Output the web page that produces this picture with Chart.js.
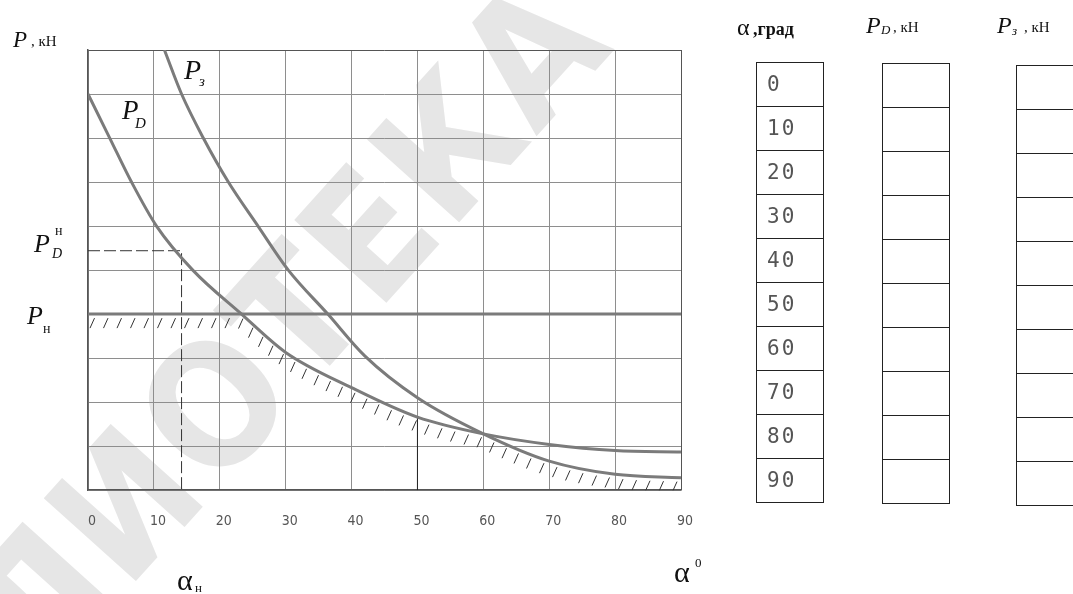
<!DOCTYPE html>
<html>
<head>
<meta charset="utf-8">
<script src="https://cdn.jsdelivr.net/npm/chart.js@4.4.1/dist/chart.umd.min.js"></script>
<style>
  body { margin: 0; background: #fff; width: 1073px; height: 594px; overflow: hidden; position: relative; font-family: "Liberation Serif", serif; }
  #wm { position: absolute; left: -420px; top: 470px; width: 1000px; text-align: center; font: bold 170px "Liberation Sans Narrow", "DejaVu Sans Condensed", sans-serif; color: #e6e6e6; transform: rotate(-48deg); transform-origin: 50% 50%; letter-spacing: 4px; line-height: 1; }
  #chart { position: absolute; left: 0; top: 0; }
  .t { position: absolute; white-space: nowrap; line-height: 1; color: #111; }
  .col { position: absolute; border: 1px solid #222; border-bottom: none; }
  .cell { height: 43px; border-bottom: 1px solid #222; box-sizing: content-box; font: 21px "DejaVu Sans Mono", monospace; color: #555; letter-spacing: 2px; line-height: 43px; padding-left: 10px; }
</style>
</head>
<body>
<div id="wm">БИБЛИОТЕКА</div>
<canvas id="chart" width="1073" height="594"></canvas>
<div id="labels"></div>
<script>
// angle, degrees
const alphaTicks = [0, 10, 20, 30, 40, 50, 60, 70, 80, 90];

// P_D curve
const pdAlpha = [0, 3.3, 6.6, 10.4, 15.9, 23.3, 30, 40, 50, 60, 70, 80, 90];
const pdValue = [9, 8, 7, 6, 5, 4, 3.13, 2.33, 1.66, 1.28, 1.04, 0.9, 0.87];

// P_З curve
const pzAlpha = [11.6, 14.2, 17.5, 21.3, 25.8, 30.4, 36.4, 42, 50, 60, 70, 80, 90];
const pzValue = [10, 9, 8, 7, 6, 5, 4, 3.05, 2.1, 1.28, 0.66, 0.36, 0.28];

// nominal load and the working point
const pNominal = 4;
const pdNominal = 5.44;
const alphaNominal = 14.2;
const blackMarkAlpha = 50;
const blackMarkValue = 1.66;

// table rows
const tableAlpha = [0, 10, 20, 30, 40, 50, 60, 70, 80, 90];

const curveGrey = '#7b7b7b';

function toPoints(xs, ys) {
  return xs.map((x, i) => ({ x: x, y: ys[i] }));
}

// sample a drawn line's bezier segments into a dense pixel polyline
function sampleCurve(pts) {
  const out = [];
  for (let i = 0; i < pts.length - 1; i++) {
    const a = pts[i], b = pts[i + 1];
    const c1x = a.cp2x ?? a.x, c1y = a.cp2y ?? a.y;
    const c2x = b.cp1x ?? b.x, c2y = b.cp1y ?? b.y;
    for (let k = 0; k < 24; k++) {
      const t = k / 24, u = 1 - t;
      out.push([
        u*u*u*a.x + 3*u*u*t*c1x + 3*u*t*t*c2x + t*t*t*b.x,
        u*u*u*a.y + 3*u*u*t*c1y + 3*u*t*t*c2y + t*t*t*b.y
      ]);
    }
  }
  const l = pts[pts.length - 1];
  out.push([l.x, l.y]);
  return out;
}

function yAt(poly, px) {
  if (px < poly[0][0] || px > poly[poly.length - 1][0]) return null;
  for (let j = 0; j < poly.length - 1; j++) {
    const p = poly[j], q = poly[j + 1];
    if (px >= p[0] && px <= q[0]) {
      if (q[0] === p[0]) return Math.max(p[1], q[1]);
      return p[1] + (q[1] - p[1]) * (px - p[0]) / (q[0] - p[0]);
    }
  }
  return null;
}

// hatching under the lower envelope of P_н, P_D, P_З
const hatchPlugin = {
  id: 'hatch',
  afterDatasetsDraw(chart) {
    const { ctx, chartArea: a, scales: { y } } = chart;
    const curves = [0, 1].map(i => sampleCurve(chart.getDatasetMeta(i).data));
    const yn = y.getPixelForValue(pNominal);
    const env = [];
    for (let px = a.left; px <= a.right; px += 0.5) {
      let py = yn;
      curves.forEach(c => {
        const v = yAt(c, px);
        if (v !== null && v > py) py = v;
      });
      env.push([px, py]);
    }
    ctx.save();
    ctx.beginPath();
    ctx.rect(a.left, a.top, a.right - a.left, a.bottom - a.top);
    ctx.clip();
    ctx.strokeStyle = '#333';
    ctx.lineWidth = 1;
    let acc = 8;
    const step = 13.5;
    for (let i = 1; i < env.length; i++) {
      const dx = env[i][0] - env[i - 1][0], dy = env[i][1] - env[i - 1][1];
      acc += Math.hypot(dx, dy);
      if (acc >= step) {
        acc -= step;
        const [px, py] = env[i];
        ctx.beginPath();
        ctx.moveTo(px + 1, py + 4);
        ctx.lineTo(px - 3.5, py + 14);
        ctx.stroke();
      }
    }
    ctx.restore();
  }
};

const edgeGrid = (value, edge) => value === edge ? '#555' : '#8e8e8e';

new Chart(document.getElementById('chart'), {
  type: 'scatter',
  data: {
    datasets: [
      {
        data: toPoints(pdAlpha, pdValue),
        showLine: true, borderColor: curveGrey, borderWidth: 3,
        cubicInterpolationMode: 'monotone', pointRadius: 0
      },
      {
        data: toPoints(pzAlpha, pzValue),
        showLine: true, borderColor: curveGrey, borderWidth: 3,
        cubicInterpolationMode: 'monotone', pointRadius: 0
      },
      {
        data: [{ x: 0, y: pNominal }, { x: 90, y: pNominal }],
        showLine: true, borderColor: curveGrey, borderWidth: 3, pointRadius: 0
      },
      {
        data: [{ x: 0, y: pdNominal }, { x: alphaNominal, y: pdNominal }, { x: alphaNominal, y: 0 }],
        showLine: true, borderColor: '#333', borderWidth: 1, borderDash: [12, 4], pointRadius: 0
      },
      {
        data: [{ x: blackMarkAlpha, y: 0 }, { x: blackMarkAlpha, y: blackMarkValue }],
        showLine: true, borderColor: '#222', borderWidth: 1, pointRadius: 0
      }
    ]
  },
  options: {
    responsive: false,
    animation: false,
    layout: { padding: { left: 88, top: 50, right: 392, bottom: 41 } },
    plugins: { legend: { display: false }, tooltip: { enabled: false } },
    scales: {
      x: {
        type: 'linear', min: 0, max: 90,
        afterBuildTicks: s => { s.ticks = alphaTicks.map(v => ({ value: v })); },
        ticks: {
          padding: 23, labelOffset: 4, color: '#555',
          font: { family: '"Liberation Sans Narrow", "DejaVu Sans Condensed", sans-serif', size: 14 }
        },
        grid: { drawTicks: false, lineWidth: 1, color: c => edgeGrid(c.tick && c.tick.value, 90) },
        border: { color: '#555', width: 1.5 }
      },
      y: {
        type: 'linear', min: 0, max: 10,
        ticks: { display: false, stepSize: 1 },
        grid: { drawTicks: false, lineWidth: 1, color: c => edgeGrid(c.tick && c.tick.value, 10) },
        border: { color: '#555', width: 1.5 }
      }
    }
  },
  plugins: [hatchPlugin]
});

// text labels, placed by baseline
const labels = document.getElementById('labels');
function t(x, base, size, html, style) {
  const d = document.createElement('div');
  d.className = 't';
  d.style.left = x + 'px';
  d.style.top = (base - 0.84 * size) + 'px';
  d.style.fontSize = size + 'px';
  if (style) d.style.cssText += style;
  d.innerHTML = html;
  labels.appendChild(d);
}
const it = 'font-style:italic;';

t(13, 47, 23, 'P', it);
t(31, 47, 15, ', кН');
t(34, 253, 26, 'P', it);
t(52, 259, 14, 'D', it);
t(55, 236, 14, 'н');
t(27, 325, 26, 'P', it);
t(43, 334, 14, 'н');
t(122, 120, 27, 'P', it);
t(135, 129, 15, 'D', it);
t(184, 80, 28, 'P', it);
t(199, 87, 15, 'з', it);
t(177, 590, 30, 'α');
t(195, 592, 13, 'н');
t(674, 582, 30, 'α');
t(695, 567, 13, '0');

t(737, 35, 24, 'α');
t(753, 35, 18, ',град', 'font-weight:bold;');
t(866, 33, 24, 'P', it);
t(881, 34, 13, 'D', it);
t(893, 33, 15, ', кН');
t(997, 33, 24, 'P', it);
t(1012, 35, 13, 'з', it);
t(1024, 33, 15, ', кН');

// table columns
function column(x, y, w, withText) {
  const c = document.createElement('div');
  c.className = 'col';
  c.style.left = x + 'px';
  c.style.top = y + 'px';
  c.style.width = w + 'px';
  tableAlpha.forEach(v => {
    const cell = document.createElement('div');
    cell.className = 'cell';
    cell.textContent = withText ? v : '';
    c.appendChild(cell);
  });
  document.body.appendChild(c);
}
column(756, 62, 66, true);
column(882, 63, 66, false);
column(1016, 65, 80, false);
</script>
</body>
</html>
